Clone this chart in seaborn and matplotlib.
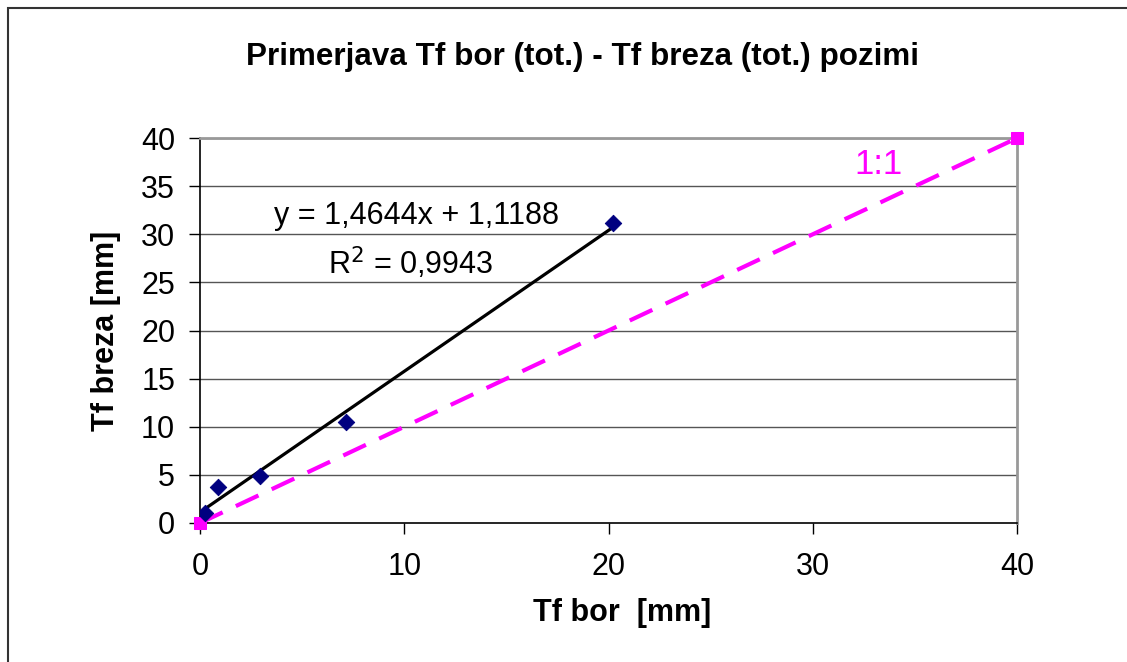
"""
Primerjava Tf bor - Tf breza (pozimi), Excel-style scatter with trend line.
"""

import numpy as np
import pandas as pd
import seaborn as sns
import matplotlib.pyplot as plt
from matplotlib.patches import Rectangle

# measured points (Tf bor, Tf breza) in mm
tf_bor = [0.24, 0.87, 2.94, 7.13, 20.2]
tf_breza = [1.05, 3.7, 4.9, 10.5, 31.2]

# trend line coefficients as printed on the chart
slope = 1.4644
intercept = 1.1188
r2 = 0.9943

# 1:1 reference line end points
ref_x = [0, 40]
ref_y = [0, 40]

x_ticks = [0, 10, 20, 30, 40]
y_ticks = [0, 5, 10, 15, 20, 25, 30, 35, 40]


def main():
    sns.set_theme(style="white")
    plt.rcParams['font.family'] = ['Liberation Sans', 'DejaVu Sans']
    plt.rcParams['text.color'] = 'black'
    plt.rcParams['xtick.color'] = 'black'
    plt.rcParams['ytick.color'] = 'black'

    fig = plt.figure(figsize=(11.27, 6.62), dpi=100)
    ax = fig.add_axes([0.1775, 0.21, 0.725, 0.5815])

    # outer chart border (right and bottom run off the picture)
    fig.patches.append(Rectangle((8 / 1127, -0.1), 1.2, 1.1 - 8.5 / 662,
                                 transform=fig.transFigure, fill=False,
                                 edgecolor='#333333', linewidth=1.5))

    for y in y_ticks[1:]:
        ax.axhline(y, color='#555555', linewidth=1, zorder=0)

    ref = pd.DataFrame({'x': ref_x, 'y': ref_y})
    sns.lineplot(data=ref, x='x', y='y', ax=ax, color='#ff00ff',
                 linewidth=3, linestyle=(0, (6, 3.5)), marker='s',
                 markersize=9, markeredgecolor='#ff00ff', zorder=3,
                 clip_on=False)

    fx = np.array([min(tf_bor), max(tf_bor)])
    fit = pd.DataFrame({'x': fx, 'y': slope * fx + intercept})
    sns.lineplot(data=fit, x='x', y='y', ax=ax, color='black',
                 linewidth=2.3, zorder=4)

    pts = pd.DataFrame({'bor': tf_bor, 'breza': tf_breza})
    sns.scatterplot(data=pts, x='bor', y='breza', ax=ax, marker='D',
                    s=70, color='#000080', edgecolor='#000080', zorder=5)

    ax.text(10.6, 31.9, 'y = 1,4644x + 1,1188', ha='center', va='center',
            fontsize=22)
    ax.text(10.3, 27.0, r'R$^2$ = 0,9943', ha='center', va='center',
            fontsize=22)
    ax.text(33.2, 37.3, '1:1', ha='center', va='center', fontsize=25,
            color='#ff00ff')

    ax.set_xlim(0, 40)
    ax.set_ylim(0, 40)
    ax.set_xticks(x_ticks)
    ax.set_yticks(y_ticks)
    ax.tick_params(axis='both', labelsize=22, direction='out', length=8,
                   width=1, left=True, bottom=True)
    ax.tick_params(axis='x', pad=13)
    ax.tick_params(axis='y', pad=10)

    for side in ['left', 'bottom']:
        ax.spines[side].set_color('black')
        ax.spines[side].set_linewidth(1.2)
    for side in ['top', 'right']:
        ax.spines[side].set_color('#999999')
        ax.spines[side].set_linewidth(2)

    ax.set_xlabel('')
    ax.set_ylabel('')
    fig.text(0.552, 0.074, 'Tf bor  [mm]', ha='center', va='center',
             fontsize=22, fontweight='bold')
    fig.text(0.094, 0.5, 'Tf breza [mm]', ha='center', va='center',
             fontsize=22, fontweight='bold', rotation=90)
    fig.text(0.517, 0.914, 'Primerjava Tf bor (tot.) - Tf breza (tot.) pozimi',
             ha='center', va='center', fontsize=22.6, fontweight='bold')

    fig.savefig('out.png', dpi=100, facecolor='white')


if __name__ == '__main__':
    main()
